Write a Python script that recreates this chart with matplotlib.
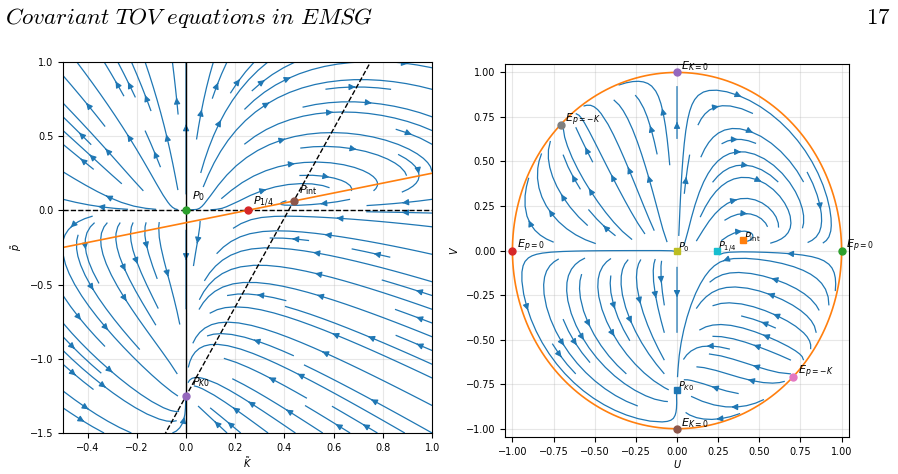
import numpy as np
import matplotlib
matplotlib.use("Agg")
import matplotlib.pyplot as plt

# vector field K' = K*(a1*p + b1*K + c1),  p' = p*(a2*p + b2*K + c2)
KDOT = [3.0, -1.0, 0.25]
PDOT = [1.0, -3.0, 1.25]

# finite fixed points (K, p)
P_NAMES = [r"$P_0$", r"$P_{1/4}$", r"$P_{\rm int}$", r"$P_{K0}$"]
P_K = [0.0, 0.25, 0.4375, 0.0]
P_P = [0.0, 0.0, 0.0625, -1.25]
P_COLORS_L = ["C2", "C3", "C5", "C4"]
P_COLORS_R = ["C8", "C9", "C1", "C0"]

# points at infinity (U, V) on the unit circle
E_NAMES = [r"$E_{K=0}$", r"$E_{p=-K}$", r"$E_{p=0}$", r"$E_{p=0}$", r"$E_{p=-K}$", r"$E_{K=0}$"]
E_U = [0.0, -0.7071, -1.0, 1.0, 0.7071, 0.0]
E_V = [1.0, 0.7071, 0.0, 0.0, -0.7071, -1.0]
E_COLORS = ["C4", "C7", "C3", "C2", "C6", "C5"]


def field(k, p):
    dk = k * (KDOT[0] * p + KDOT[1] * k + KDOT[2])
    dp = p * (PDOT[0] * p + PDOT[1] * k + PDOT[2])
    return dk, dp


fig = plt.figure(figsize=(8.98, 4.74), dpi=100)
plt.rcParams["mathtext.fontset"] = "dejavusans"

# page header
fig.text(0.006, 0.963, r"$\mathit{Covariant\ TOV\ equations\ in\ EMSG}$",
         fontsize=16.6, math_fontfamily="cm", va="center", ha="left")
fig.text(0.992, 0.963, r"$\mathrm{17}$", fontsize=16.6, math_fontfamily="cm",
         va="center", ha="right")

# ---- left panel: (K, p) plane
ax1 = fig.add_axes([0.0702, 0.0865, 0.411, 0.783])
k = np.linspace(-0.5, 1.0, 300)
p = np.linspace(-1.5, 1.0, 300)
KK, PP = np.meshgrid(k, p)
dK, dP = field(KK, PP)
ax1.streamplot(KK, PP, dK, dP, density=0.95, color="C0", linewidth=0.9, arrowsize=0.9)

kl = np.array([-0.5, 1.0])
ax1.axhline(0, color="k", ls="--", lw=1)
ax1.axvline(0, color="k", lw=1)
# nullcline K'=0 (orange) and p'=0 (dashed)
ax1.plot(kl, -(KDOT[1] * kl + KDOT[2]) / KDOT[0], color="C1", lw=1.2)
ax1.plot(kl, -(PDOT[1] * kl + PDOT[2]) / PDOT[0], color="k", ls="--", lw=1)

offs_l = [(4, 8), (4, 4), (4, 6), (4, 8)]
for name, x, y, c, o in zip(P_NAMES, P_K, P_P, P_COLORS_L, offs_l):
    ax1.plot(x, y, "o", color=c, ms=5, zorder=5)
    ax1.annotate(name, (x, y), xytext=o, textcoords="offset points", fontsize=8)

ax1.set_xlim(-0.5, 1.0)
ax1.set_ylim(-1.5, 1.0)
ax1.set_xlabel(r"$\tilde{K}$", fontsize=7, labelpad=2)
ax1.set_ylabel(r"$\tilde{p}$", fontsize=7)
ax1.tick_params(labelsize=7)
ax1.grid(alpha=0.3)

# ---- right panel: compactified (U, V) disk
ax2 = fig.add_axes([0.5624, 0.0775, 0.383, 0.787])
u = np.linspace(-1.0, 1.0, 300)
UU, VV = np.meshgrid(u, u)
s2 = 1 - UU**2 - VV**2
s = np.sqrt(np.clip(s2, 0, None))
# K' and p' multiplied by s^2 (positive time rescaling)
A = UU * (KDOT[0] * VV + KDOT[1] * UU + KDOT[2] * s)
B = VV * (PDOT[0] * VV + PDOT[1] * UU + PDOT[2] * s)
dU = A - UU * (UU * A + VV * B)
dV = B - VV * (UU * A + VV * B)
mask = s2 < 0
dU = np.ma.masked_where(mask, dU)
dV = np.ma.masked_where(mask, dV)
ax2.streamplot(UU, VV, dU, dV, density=0.9, color="C0", linewidth=0.9, arrowsize=0.9)

t = np.linspace(0, 2 * np.pi, 400)
ax2.plot(np.cos(t), np.sin(t), color="C1", lw=1.2)

for name, x, y, c in zip(E_NAMES, E_U, E_V, E_COLORS):
    ax2.plot(x, y, "o", color=c, ms=5, zorder=5)
    ax2.annotate(name, (x, y), xytext=(3, 2), textcoords="offset points", fontsize=8)

r = np.sqrt(1 + np.array(P_K)**2 + np.array(P_P)**2)
P_U = np.array(P_K) / r
P_V = np.array(P_P) / r
for name, x, y, c in zip(P_NAMES, P_U, P_V, P_COLORS_R):
    ax2.plot(x, y, "s", color=c, ms=5, zorder=5)
    ax2.annotate(name, (x, y), xytext=(1, 0), textcoords="offset points", fontsize=7)

ax2.set_xlim(-1.045, 1.045)
ax2.set_ylim(-1.048, 1.046)
ax2.set_xticks(np.arange(-1.0, 1.01, 0.25))
ax2.set_yticks(np.arange(-1.0, 1.01, 0.25))
ax2.set_xlabel(r"$U$", fontsize=7, labelpad=1)
ax2.set_ylabel(r"$V$", fontsize=7)
ax2.tick_params(labelsize=7)
ax2.grid(alpha=0.3)

fig.savefig("out.png", dpi=100)
